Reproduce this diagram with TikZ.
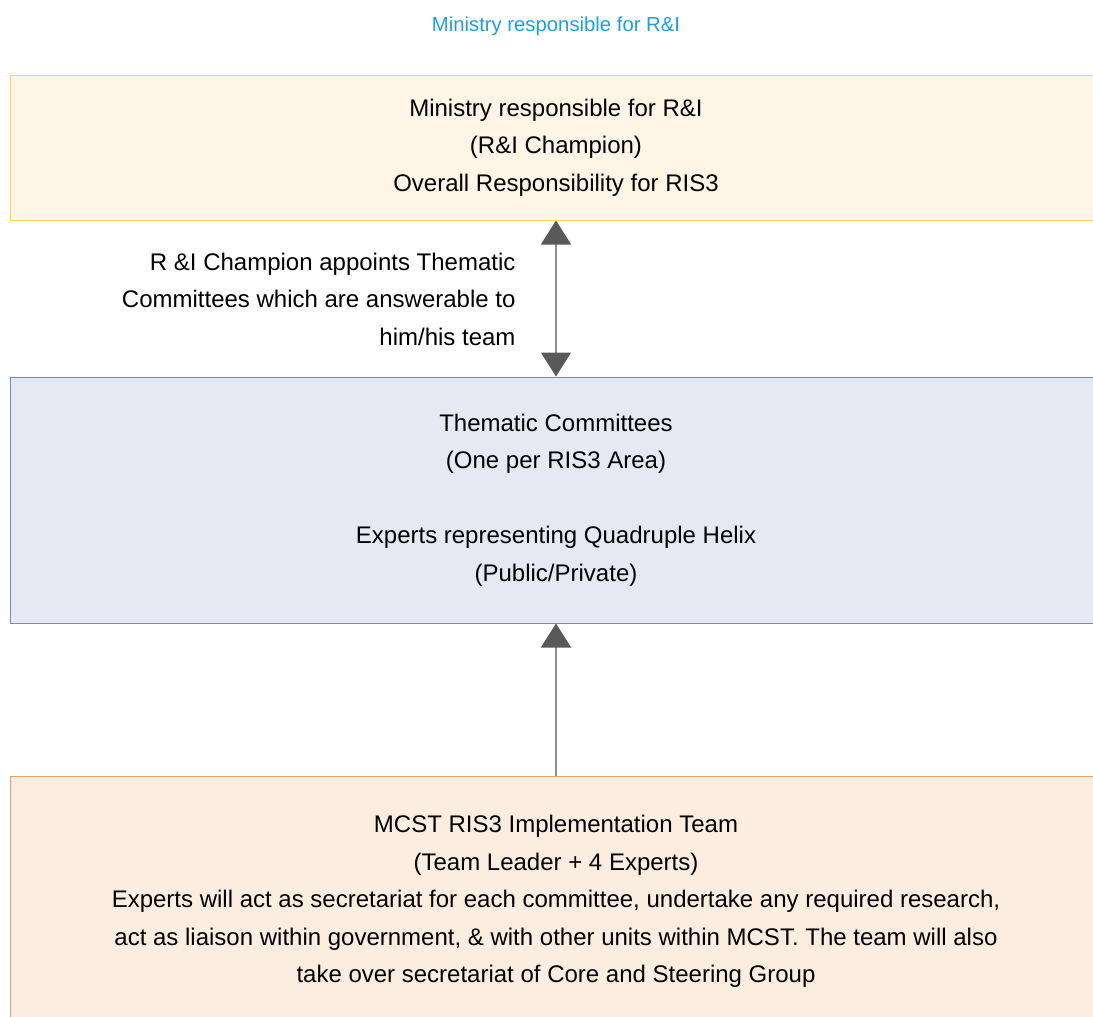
\documentclass[tikz,border=0pt]{standalone}
\usepackage{fontspec}
\setmainfont{Liberation Sans}
\usepackage{tikz}
\usetikzlibrary{arrows.meta}

\definecolor{champfill}{HTML}{FFF5E6}
\definecolor{champline}{HTML}{FFD966}
\definecolor{themefill}{HTML}{E6E8F4}
\definecolor{themeline}{HTML}{6C8EBF}
\definecolor{teamfill}{HTML}{FCEDE1}
\definecolor{teamline}{HTML}{F2A06A}
\definecolor{titleblue}{HTML}{1BA1E2}

\begin{document}
\begin{tikzpicture}[x=1pt,y=-1pt]
  \tikzstyle{box}=[draw, line width=1pt, minimum width=1092pt, align=center, inner sep=0pt,
    font=\fontsize{24}{37.5}\selectfont]
  \tikzstyle{directed}=[line width=1.5pt, color=black!45]
  \tikzset{head/.tip={Triangle[width=30pt,length=24pt,color=black!65]}}
  \useasboundingbox (0,0) rectangle (1093,1017);
  \clip (0,0) rectangle (1093,1017);
  \node[font=\fontsize{20.3}{24}\selectfont, text=titleblue] (title) at (556,26) {Ministry responsible for R\&I};
  \node[box, fill=champfill, draw=champline, minimum height=145pt] (champ) at (556,147.5)
    {Ministry responsible for R\&I\\(R\&I Champion)\\Overall Responsibility for RIS3};
  \node[box, fill=themefill, draw=themeline, minimum height=246pt] (theme) at (556,500)
    {Thematic Committees\\(One per RIS3 Area)\\[37.5pt]Experts representing Quadruple Helix\\(Public/Private)};
  \node[box, fill=teamfill, draw=teamline, minimum height=251pt] (team) at (556,901.5)
    {MCST RIS3 Implementation Team\\(Team Leader + 4 Experts)\\Experts will act as secretariat for each committee, undertake any required research,\\act as liaison within government, \& with other units within MCST. The team will also\\take over secretariat of Core and Steering Group};
  \node[align=right, anchor=east, font=\fontsize{24}{37.5}\selectfont] (appoint) at (519,299)
    {R \&I Champion appoints Thematic\\Committees which are answerable to\\him/his team};
  \draw[directed, head-head] (champ) -- (theme);
  \draw[directed, head-] (theme) -- (team);
\end{tikzpicture}
\end{document}
